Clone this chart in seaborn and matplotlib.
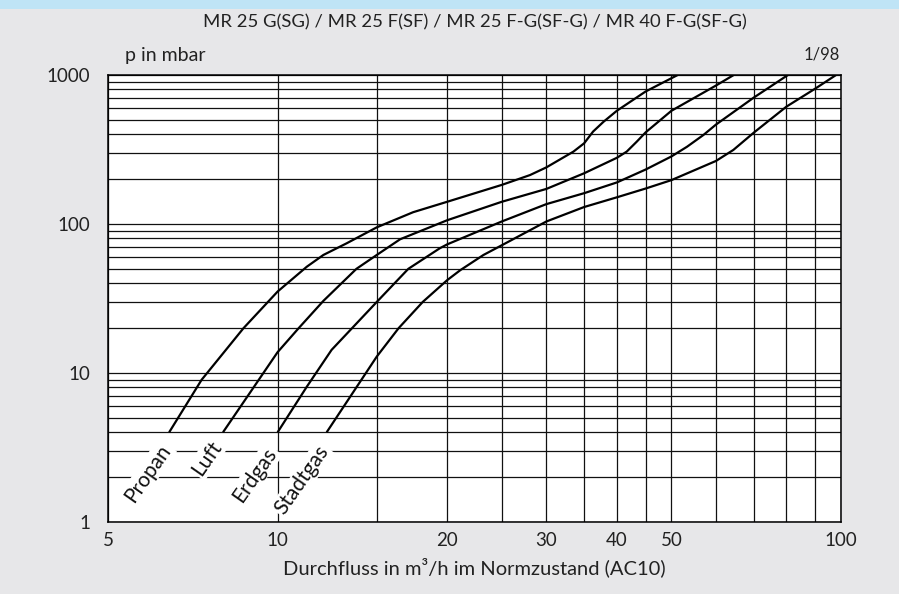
import numpy as np
import pandas as pd
import matplotlib
matplotlib.use("Agg")
import matplotlib.pyplot as plt
import seaborn as sns
from matplotlib.patches import Rectangle

# ---- data (flow in m3/h, pressure in mbar) ----
propan_q = [6.42, 7.33, 8.7, 10, 11.27, 12.06, 13.26, 15, 17.4, 20, 25, 28.05, 30, 33.5, 35, 36.3, 37.9, 40, 45, 51.3]
propan_p = [4, 9, 20, 35.2, 51.7, 62, 74.2, 95, 120, 141, 183, 213, 240, 306, 348, 417, 486, 575, 775, 1000]

luft_q = [8.0, 10, 10.9, 12.06, 13.8, 15, 16.5, 20, 25, 30, 35, 40, 41.65, 43.4, 45, 50, 60, 64.5]
luft_p = [4, 13.8, 20, 30.5, 50, 62, 79, 106, 141, 172, 219, 278, 306, 357, 412, 575, 850, 1000]

erdgas_q = [10, 11.27, 12.47, 15, 17.06, 19.4, 20, 25, 30, 35, 40, 45, 50, 53.3, 57, 60, 70, 80.5]
erdgas_p = [4, 8.1, 14.3, 30, 50, 68.7, 73, 104, 136, 161, 190, 232, 284, 330, 396, 465, 705, 1000]

stadtgas_q = [12.22, 15, 16.4, 18.1, 20, 21.1, 23.2, 25, 30, 35, 40, 45, 50, 60, 64.4, 70, 80, 90, 98]
stadtgas_p = [4, 12.9, 20, 30, 42, 49, 62, 72, 104, 130, 151, 173, 197, 265, 314, 410, 613, 810, 1000]

gas_names = ["Propan", "Luft", "Erdgas", "Stadtgas"]
label_q = [5.89, 7.49, 9.12, 11.05]
label_p = [2.13, 2.69, 2.07, 1.91]

x_major = [5, 10, 20, 30, 40, 50, 100]
x_major_labels = ["5", "10", "20", "30", "40", "50", "100"]
x_minor = [15, 25, 35, 45, 60, 70, 80, 90]
y_major = [1, 10, 100, 1000]
y_major_labels = ["1", "10", "100", "1000"]
y_minor = [m * d for d in (1, 10, 100) for m in range(2, 10)]

title = "MR 25 G(SG) / MR 25 F(SF) / MR 25 F-G(SF-G) / MR 40 F-G(SF-G)"
ylabel_text = "p in mbar"
corner_text = "1/98"
xlabel_text = "Durchfluss in m³/h im Normzustand (AC10)"

# ---- style ----
sns.set_theme(style="white")
plt.rcParams["font.family"] = ["Lato", "DejaVu Sans"]

BG = "#e7e7e9"
TXT = "#222222"
fig = plt.figure(figsize=(8.99, 5.94), dpi=100, facecolor=BG)
fig.patches.append(Rectangle((0, 1 - 9 / 594), 1, 9 / 594, transform=fig.transFigure,
                             facecolor="#bfe4f6", edgecolor="none", zorder=0))

ax = fig.add_axes([108 / 899, 1 - 522 / 594, (841 - 108) / 899, (522 - 75) / 594])
ax.set_facecolor("white")
ax.set_xscale("log")
ax.set_yscale("log")
ax.set_xlim(5, 100)
ax.set_ylim(1, 1000)

rows = []
for name, q, p in zip(gas_names, [propan_q, luft_q, erdgas_q, stadtgas_q],
                      [propan_p, luft_p, erdgas_p, stadtgas_p]):
    for qi, pi in zip(q, p):
        rows.append({"gas": name, "q": qi, "p": pi})
df = pd.DataFrame(rows)

for name in gas_names:
    sub = df[df["gas"] == name]
    sns.lineplot(data=sub, x="q", y="p", ax=ax, sort=False, estimator=None,
                 color="black", linewidth=1.6, zorder=3, legend=False)
for line in ax.get_lines():
    line.set_solid_joinstyle("round")
    line.set_solid_capstyle("butt")

ax.set_xticks(x_major)
ax.set_xticklabels(x_major_labels)
ax.set_xticks(x_minor, minor=True)
ax.set_xticklabels([], minor=True)
ax.set_yticks(y_major)
ax.set_yticklabels(y_major_labels)
ax.set_yticks(y_minor, minor=True)
ax.set_yticklabels([], minor=True)
ax.tick_params(which="both", length=0)
ax.tick_params(axis="x", which="major", pad=7, labelsize=13.5, labelcolor=TXT)
ax.tick_params(axis="y", which="major", pad=13, labelsize=13.5, labelcolor=TXT)
ax.grid(True, which="both", color="#111111", linewidth=0.9, zorder=1)
ax.set_axisbelow(True)
ax.set_xlabel("")
ax.set_ylabel("")
for s in ax.spines.values():
    s.set_color("black")
    s.set_linewidth(1.1)

for name, q, p in zip(gas_names, label_q, label_p):
    ax.text(q, p, name, rotation=55, ha="center", va="center", fontsize=15,
            color="#111111", zorder=5,
            bbox=dict(facecolor="white", edgecolor="none", pad=1.0))

fig.text(474.5 / 899, 1 - 22 / 594, title, ha="center", va="center", fontsize=13.3, color=TXT)
fig.text(125 / 899, 1 - 55 / 594, ylabel_text, ha="left", va="center", fontsize=14, color=TXT)
fig.text(840 / 899, 1 - 55 / 594, corner_text, ha="right", va="center", fontsize=12, color=TXT)
fig.text(474.5 / 899, 1 - 567 / 594, xlabel_text, ha="center", va="center", fontsize=14.5, color=TXT)

fig.savefig("out.png", dpi=100, facecolor=BG)
